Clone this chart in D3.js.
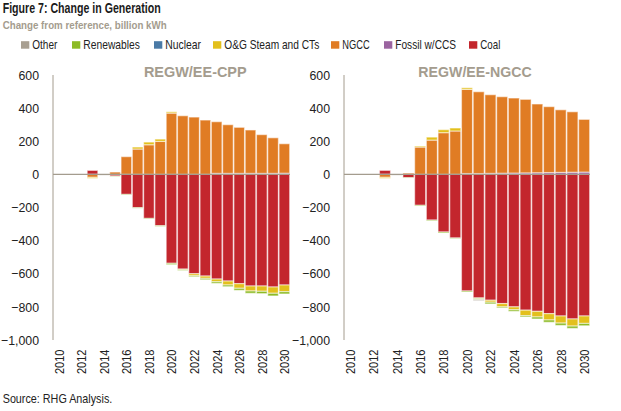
<!DOCTYPE html>
<html><head><meta charset="utf-8">
<script src="https://cdn.jsdelivr.net/npm/d3@7"></script>
<style>
body{margin:0;background:#fff;}
svg text{font-family:"Liberation Sans",Arial,sans-serif;}
</style></head>
<body><svg id="c" width="621" height="411"></svg>
<script>
const years = d3.range(2010, 2031).map(String);
const seriesNames = ["Other","Renewables","Nuclear","O&G Steam and CTs","NGCC","Fossil w/CCS","Coal"];
const yTicks = [600,400,200,0,-200,-400,-600,-800,-1000];
const panelTitles = ["REGW/EE-CPP","REGW/EE-NGCC"];

// REGW/EE-CPP
const coalCPP  = [0,0,0,24,0,-10,-121,-201,-266,-310,-537,-572,-600,-614,-632,-644,-660,-674,-674,-680,-668];
const ccsCPP   = [0,0,0,0,0,0,0,0,0,0,0,0,0,0,6,6,6,6,6,6,7];
const ngccCPP  = [0,0,0,-18,0,14,107,153,179,199,370,354,346,328,312,294,278,262,234,215,178];
const ogCPP    = [0,0,0,-6,-3,0,0,12,16,14,8,-4,-12,-14,-16,-24,-28,-30,-32,-38,-40];
const nucCPP   = [0,0,0,0,0,0,0,0,0,0,0,0,0,0,0,0,0,0,0,0,0];
const renCPP   = [0,0,0,0,0,-2,-3,-3,-3,-4,-8,-4,-6,-8,-10,-10,-12,-14,-14,-16,-14];
const othCPP   = [0,0,0,0,-2,0,0,0,0,0,0,0,0,0,0,0,0,0,0,0,0];

// REGW/EE-NGCC
const coalNG  = [0,0,0,24,0,-20,-187,-276,-348,-384,-704,-746,-760,-780,-800,-820,-827,-841,-855,-873,-855];
const ccsNG   = [0,0,0,0,0,0,0,0,0,0,5,5,6,7,8,9,10,11,12,13,14];
const ngccNG  = [0,0,0,-18,0,8,165,207,252,262,508,494,475,462,453,444,415,398,378,365,318];
const ogNG    = [0,0,0,-6,-3,0,6,18,18,18,10,-4,-12,-20,-17,-33,-34,-38,-43,-43,-45];
const nucNG   = [0,0,0,0,0,0,0,0,0,0,0,0,0,0,0,0,0,0,0,0,0];
const renNG   = [0,0,0,0,0,-2,-4,-4,-6,-3,-6,-6,-10,-6,-10,-8,-12,-14,-14,-14,-14];
const othNG   = [0,0,0,0,-2,0,0,0,0,0,0,-6,0,0,0,0,0,0,0,0,0];

const colors = {"Other":"#a89f91","Renewables":"#8dbb25","Nuclear":"#4a7aa6","O&G Steam and CTs":"#e3c01c","NGCC":"#e07c24","Fossil w/CCS":"#9b64a0","Coal":"#c3262d"};
const stackKeys = ["Coal","Fossil w/CCS","NGCC","O&G Steam and CTs","Nuclear","Renewables","Other"];

function rows(coal,ccs,ngcc,og,nuc,ren,oth){
  return years.map((y,i)=>({year:y,"Coal":coal[i],"Fossil w/CCS":ccs[i],"NGCC":ngcc[i],"O&G Steam and CTs":og[i],"Nuclear":nuc[i],"Renewables":ren[i],"Other":oth[i]}));
}
const panels = [
  {title:panelTitles[0], data:rows(coalCPP,ccsCPP,ngccCPP,ogCPP,nucCPP,renCPP,othCPP), x0:53, x1:290, labelX:39, titleX:195.3, titleW:102.7},
  {title:panelTitles[1], data:rows(coalNG,ccsNG,ngccNG,ogNG,nucNG,renNG,othNG), x0:344, x1:590, labelX:330, titleX:475, titleW:113.3}
];

const svg = d3.select("#c");
const gray = "#a49c8e";

function fitText(sel, w){ return sel.attr("textLength",w).attr("lengthAdjust","spacingAndGlyphs"); }

fitText(svg.append("text").attr("x",2.7).attr("y",13).attr("font-size",14.4).attr("font-weight","bold").attr("fill","#1a1a1a").text("Figure 7: Change in Generation"),158);
fitText(svg.append("text").attr("x",2.7).attr("y",29.3).attr("font-size",11.2).attr("font-weight","bold").attr("fill",gray).text("Change from reference, billion kWh"),164);

// legend
const legX = [21,72,154,213,331,384,469];
const legW = [25,56.6,35.7,95,27.3,60.7,20];
const leg = svg.append("g");
seriesNames.forEach((n,i)=>{
  leg.append("rect").attr("x",legX[i]).attr("y",41.2).attr("width",8.3).attr("height",7.5).attr("fill",colors[n]);
  fitText(leg.append("text").attr("x",legX[i]+11.3).attr("y",49.3).attr("font-size",13.5).attr("fill","#222").text(n), legW[i]);
});

const y = d3.scaleLinear().domain([-1000,600]).range([340,75]);
const stack = d3.stack().keys(stackKeys).offset(d3.stackOffsetDiverging);

panels.forEach(p=>{
  const x = d3.scaleBand().domain(years).range([p.x0,p.x1]).paddingInner(0.06).paddingOuter(0.03);
  const g = svg.append("g");
  const layers = stack(p.data);
  g.selectAll("g.layer").data(layers).join("g").attr("class","layer")
    .attr("fill",d=>colors[d.key])
    .selectAll("rect").data(d=>d.filter(e=>e[1]-e[0]!==0)).join("rect")
    .attr("x",d=>x(d.data.year))
    .attr("width",x.bandwidth())
    .attr("y",d=>y(d[1]))
    .attr("height",d=>Math.max(0,y(d[0])-y(d[1])))
    .attr("stroke","rgba(255,255,255,0.5)").attr("stroke-width",1.2);

  // y axis labels
  const ya = d3.axisLeft(y).tickValues(yTicks).tickSize(0).tickPadding(0).tickFormat(d3.format(","));
  const yg = svg.append("g").attr("transform",`translate(${p.labelX},0)`).call(ya);
  yg.select(".domain").remove();
  yg.selectAll("text").attr("font-size",13).attr("fill","#222").attr("font-family",null)
    .attr("x",0).attr("transform","scale(0.95,1)");
  svg.append("line").attr("x1",p.x0).attr("x2",p.x0).attr("y1",y(600)).attr("y2",y(-1000)).attr("stroke",gray).attr("stroke-width",1);
  // zero line
  svg.append("line").attr("x1",p.x0).attr("x2",p.x1).attr("y1",y(0)).attr("y2",y(0)).attr("stroke",gray).attr("stroke-width",1.3);

  // x axis labels
  const xa = d3.axisBottom(x).tickSize(0).tickPadding(0).tickValues(years.filter((d,i)=>i%2===0));
  const xg = svg.append("g").attr("transform",`translate(0,349.5)`).call(xa);
  xg.select(".domain").remove();
  xg.selectAll("text").attr("font-size",13.5).attr("fill","#222").attr("font-family",null)
    .attr("transform","rotate(-90) scale(0.82,1)").attr("text-anchor","end").attr("dy","0.36em").attr("x",0).attr("y",0);

  fitText(svg.append("text").attr("x",p.titleX - p.titleW/2).attr("y",77.3).attr("font-size",15).attr("font-weight","bold").attr("fill",gray).text(p.title), p.titleW);
});

fitText(svg.append("text").attr("x",2.7).attr("y",403.3).attr("font-size",13.5).attr("fill","#222").text("Source: RHG Analysis."),109.6);
</script></body></html>
